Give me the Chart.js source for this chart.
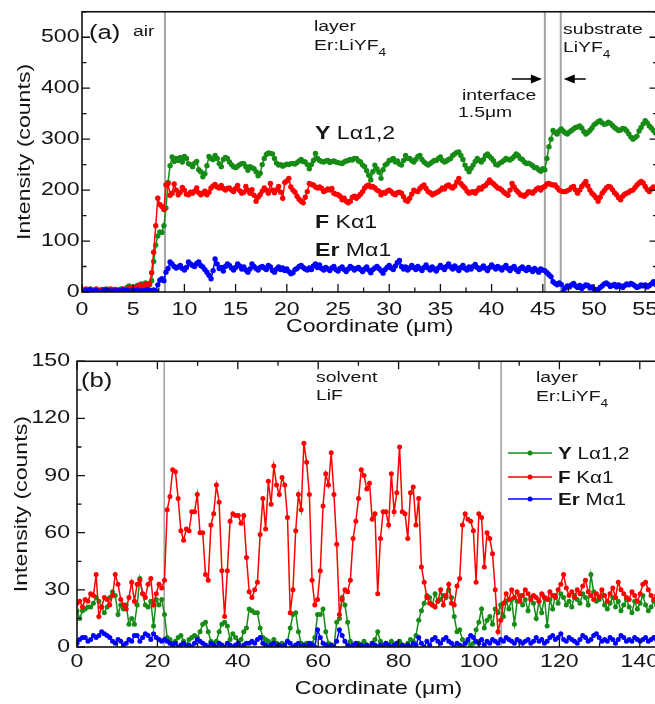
<!DOCTYPE html>
<html><head><meta charset="utf-8">
<script src="https://cdn.jsdelivr.net/npm/chart.js@4.4.1/dist/chart.umd.min.js"></script>
<style>
html,body{margin:0;padding:0;background:#fff;overflow:hidden;width:655px;height:704px;}
canvas{position:absolute;left:0;}
</style></head><body>
<canvas id="cA" width="700" height="345" style="top:0px;width:700px;height:345px"></canvas>
<canvas id="cB" width="700" height="359" style="top:345px;width:700px;height:359px"></canvas>
<script>
const SX = 1.25; // horizontal text stretch seen in the reference typeface
const FONT = "'Liberation Sans', Arial, sans-serif";
const INK = '#151515';

// sampling steps along the coordinate axis (µm)
const STEP_A = 0.2;
const STEP_B = 0.68;

// ---------- panel (a) ----------
const Y_LA_A = [
3,5,4,2,6,4,3,5,2,4,3,5,6,3,4,2,5,3,4,6,3,5,9,12,8,
10,7,13,9,16,12,18,11,14,22,60,92,110,118,117,130,165,215,248,265,256,262,258,264,255,
266,262,252,250,246,253,256,240,236,226,232,248,266,262,260,268,262,252,246,260,264,262,255,250,246,
244,247,250,252,252,246,239,246,244,242,236,228,233,250,262,270,273,272,271,262,253,249,250,247,249,
251,250,252,252,251,254,257,260,256,255,250,242,250,258,272,262,258,256,255,257,258,254,256,257,255,
254,253,252,255,257,258,260,259,262,262,257,255,249,246,238,229,220,236,249,242,235,223,240,249,252,
258,259,262,255,257,251,249,258,268,262,262,258,255,260,266,268,260,255,252,249,252,255,258,258,262,
265,258,255,257,260,262,268,271,274,275,268,260,249,242,236,243,249,256,262,258,255,260,268,271,266,
262,257,250,249,253,255,258,262,260,259,262,266,271,268,262,260,255,252,253,251,248,244,244,240,237,
242,240,262,285,300,317,313,310,316,320,316,312,310,314,317,320,323,324,326,322,315,310,313,317,322,
328,331,334,336,332,329,330,333,331,327,323,320,317,318,321,320,316,310,304,300,303,306,316,323,330,
336,332,326,322,317,312,318];
const F_KA_A = [
4,2,6,3,5,2,4,6,3,2,5,3,4,2,6,3,5,4,2,3,6,4,5,8,6,
9,5,10,14,8,12,15,10,17,38,78,130,184,172,168,162,210,213,190,194,212,200,191,196,205,
200,192,191,196,194,198,204,195,191,194,198,191,196,204,208,211,206,204,209,203,200,203,204,200,197,
203,209,199,194,196,207,200,194,201,190,178,186,191,198,204,200,194,213,200,195,201,207,196,184,215,
218,223,206,200,196,188,182,178,175,186,197,213,211,210,206,204,206,203,197,199,202,200,203,194,192,
191,188,181,184,178,175,178,186,188,184,188,192,197,204,208,210,206,207,204,200,198,191,195,194,198,
200,197,193,191,195,196,194,187,180,178,184,192,200,198,197,203,207,210,203,197,195,191,193,195,197,
200,204,202,208,210,206,204,208,216,223,213,208,204,198,194,196,197,194,199,204,202,207,209,214,220,
215,212,208,204,203,200,196,193,190,200,213,206,200,196,191,190,188,192,197,196,194,198,202,204,200,
205,207,212,213,211,210,210,205,200,198,197,197,199,201,205,207,200,194,200,207,212,217,208,200,194,
190,185,178,186,194,199,204,207,206,201,195,191,185,181,188,192,194,196,199,200,205,210,214,217,214,
207,201,197,202,206,203,199];
const ER_MA_A = [
2,0,3,1,4,0,2,3,1,0,2,4,1,3,0,2,1,3,2,0,4,1,3,2,1,
3,1,4,2,0,3,2,5,1,3,4,2,14,23,26,22,39,46,59,55,50,47,49,52,46,
43,48,59,55,52,50,56,59,52,49,44,39,33,26,42,65,55,46,48,41,50,55,52,47,43,
48,55,51,45,49,43,39,45,55,50,46,43,48,50,47,44,52,49,42,39,45,49,44,47,42,
45,40,36,38,44,46,50,52,48,45,43,47,44,51,55,48,53,46,43,48,45,42,47,50,44,
41,46,49,44,40,45,50,47,43,46,48,44,40,45,49,43,38,44,47,50,46,42,37,44,48,
52,47,44,51,58,62,50,45,49,43,47,52,48,44,50,46,42,48,53,47,43,49,45,41,47,
52,48,44,50,55,49,45,51,47,42,48,52,46,43,49,45,50,54,48,44,47,51,46,42,48,
53,49,45,50,47,43,48,52,46,42,47,50,44,40,46,49,45,42,48,44,40,46,43,39,45,
43,42,38,34,30,20,17,14,18,15,0,8,12,10,14,17,12,9,13,7,11,14,13,8,10,
6,4,5,9,12,16,18,15,11,13,15,10,14,12,9,13,16,14,17,15,12,9,11,14,12,
14,10,13,16,20,15,12];
const BOUNDS_A = [8.1, 45.2, 46.75];

// ---------- panel (b) ----------
const Y_LA_B = [
19,15,19,20,21,21,23,26,24,21,18,21,26,29,27,17,22,20,22,12,15,12,22,36,28,22,21,24,11,25,22,25,17,
5,4,2,3,5,6,3,1,4,5, 6,5,8,12,13,8,3,2,3,8, 12,13,11,4,7,5,2,4,8,10,
20,19,18,18,10,5,4,3,2,4, 2,1,2,0,3,10,17,18,8,2, 0,2,1,2,5,17,17,20,8,2,
1,0,13,15,26,22,13,3,1,0, 2,1,3,1,0,2,4,8,3,1, 2,0,3,1,2,3,1,0,2,4,
3,6,14,19,23,27,26,22,28,24, 25,27,26,30,26,16,8,9,4,2, 3,1,2,9,13,20,10,14,16,12,
20,18,22,16,24,
20,25,12,24,27,22,25,19,26,23, 15,24,18,26,11,25,20,27,23,28, 26,22,24,21,27,25,23,28,26,22,
38,29,24,25,27,22,20,23,26,21, 24,19,22,25,21,18,24,20,23,27, 22,19,21,24, 22,25,20,23];
const F_KA_B = [
23,24,21,25,24,28,27,38,16,21,26,25,22,27,38,33,25,22,20,26,34,24,33,35,28,26,33,36,22,28,33,31,35,
72,79,93,92,78,61,56,62,61,71,71,80,60,60,38,35,64,70,85,76,40,16,40,66,70,69,69,65,69,47,
29,26,30,34,59,78,62,87,75,95,85,80,89,85,68,18,30,61,80,72,107,97,80,35,22,25,40,74,91,85,
102,80,54,17,25,30,29,35,57,66,78,93,90,83,86,67,70,28,57,71,71,64,91,71,81,105,71,70,57,81,
84,64,78,42,34,26,23,22,21,24,30,22,27,33,23,22,32,36,64,70,67,66,61,34,70,68,42,60,57,49,
30,8,14,23,28,
25,30,26,29,24,27,30,28,25,27, 26,24,28,26,25,29,27,26,30,33, 38,31,27,29,26,30,28,32,35,29,
27,25,28,26,30,27,24,28,31,26, 34,30,28,26,25,29,27,24,28,33, 34,30,27,25, 27,24,29,26];
const ER_MA_B = [
2,4,5,5,3,4,6,5,6,8,7,6,5,3,2,4,3,1,2,4,3,6,6,3,5,7,6,4,7,5,4,3,4,
3,2,1,2,0,1,2,0,1,0, 2,4,3,2,1,0,2,1,0,2, 1,0,2,1,0,1,2,0,1,2, 2,3,2,4,5,2,1,0,1,2,
0,1,0,1,3,2,0,1,2,0, 1,0,2,1,0,9,5,2,1,0, 1,0,3,9,6,3,1,0,1,2, 0,1,0,1,0,2,1,0,1,0,
2,1,0,1,2,0,1,0,1,0, 2,1,5,2,0,3,1,4,5,3, 2,4,5,3,2,0,2,1,0,2, 4,6,5,3,2,4,1,3,2,4,
3,2,4,3,5,
4,3,2,4,3,2,3,4,2,3, 5,3,4,2,3,5,6,4,5,7, 4,3,5,4,3,2,4,6,5,3, 4,6,7,5,3,4,3,5,4,2,
4,6,5,3,4,3,5,4,3,4, 5,3,4,5, 4,3,5,4];
const BOUNDS_B = [21.7, 105.5];

const SERIES = [['Y',' L\u03b11,2'],['F',' K\u03b11'],['Er',' M\u03b11']];
const COLORS = ['#168c16','#ff0000','#0000ff'];

// wide-text rendering (the reference typeface is horizontally expanded)
function stretchText(ctx){
  const orig = ctx.fillText.bind(ctx);
  ctx.fillText = function(t, x, y){
    ctx.save(); ctx.translate(x, y); ctx.scale(SX, 1); orig(t, 0, 0); ctx.restore();
  };
}
function rich(ctx, parts, x, y){
  ctx.save(); ctx.textAlign='left'; ctx.textBaseline='alphabetic'; ctx.fillStyle=INK;
  let cx = x;
  for (const p of parts){
    ctx.font = (p.bold?'bold ':'') + p.size + 'px ' + FONT;
    ctx.fillText(p.t, cx, y + (p.dy||0));
    cx += ctx.measureText(p.t).width * SX;
  }
  ctx.restore();
}
function arrow(ctx, xFrom, xTo, y){
  const dir = Math.sign(xTo - xFrom);
  ctx.save(); ctx.strokeStyle='#000'; ctx.fillStyle='#000'; ctx.lineWidth=1.5;
  ctx.beginPath(); ctx.moveTo(xFrom, y); ctx.lineTo(xTo - dir*8, y); ctx.stroke();
  ctx.beginPath(); ctx.moveTo(xTo, y); ctx.lineTo(xTo - dir*11, y-4.5); ctx.lineTo(xTo - dir*11, y+4.5); ctx.closePath(); ctx.fill();
  ctx.restore();
}

function toXY(arr, step){ return arr.map((v,i)=>({x: Math.round(i*step*100)/100, y: v})); }
function makeSets(arrs, step, r){
  return arrs.map((a,k)=>({
    label: SERIES[k].join(''), data: toXY(a, step),
    borderColor: COLORS[k], backgroundColor: COLORS[k],
    pointBackgroundColor: COLORS[k], pointBorderColor: COLORS[k], pointBorderWidth: 0,
    pointRadius: r, borderWidth: 1.5, tension: 0, order: 3-k
  }));
}

const frameTicks = {
  id: 'frameTicks',
  afterDatasetsDraw(chart, args, o){
    const {ctx, chartArea: a, scales: {x, y}} = chart;
    ctx.save(); ctx.strokeStyle = '#111'; ctx.lineWidth = 1.3; ctx.beginPath();
    const xm = x.ticks.map(t=>t.value), ym = y.ticks.map(t=>t.value);
    for (let k=0; k*o.xMinor <= x.max + 1e-9; k++){
      const v = k*o.xMinor, L = xm.some(m=>Math.abs(m-v)<1e-6) ? 8 : 4.5, px = x.getPixelForValue(v);
      ctx.moveTo(px, a.bottom); ctx.lineTo(px, a.bottom - L);
      if (o.top){ ctx.moveTo(px, a.top); ctx.lineTo(px, a.top + L); }
    }
    for (let k=0; k*o.yMinor <= y.max + 1e-9; k++){
      const v = k*o.yMinor, L = ym.some(m=>Math.abs(m-v)<1e-6) ? 8 : 4.5, py = y.getPixelForValue(v);
      ctx.moveTo(a.left, py); ctx.lineTo(a.left + L, py);
      ctx.moveTo(a.right, py); ctx.lineTo(a.right - L, py);
    }
    ctx.stroke();
    ctx.lineWidth = 1.6; ctx.strokeRect(a.left, a.top, a.right-a.left, a.bottom-a.top);
    ctx.restore();
    if (o.annot) o.annot(chart);
  },
  beforeDatasetsDraw(chart, args, o){
    const {ctx, chartArea: a, scales: {x}} = chart;
    ctx.save(); ctx.strokeStyle = '#a3a3a3'; ctx.lineWidth = o.bw;
    for (const b of o.bounds){
      const px = x.getPixelForValue(b);
      ctx.beginPath(); ctx.moveTo(px, a.top); ctx.lineTo(px, a.bottom); ctx.stroke();
    }
    ctx.restore();
  }
};

// labelled ticks at every multiple of the step inside the range
function multiples(step){
  return s => {
    const t = [];
    for (let k = 0; k*step <= s.max + 1e-9; k++) t.push({value: k*step});
    s.ticks = t;
  };
}
function scales(o){
  const tf = {family: FONT, size: 18.5, lineHeight: 1};
  return {
    x: {type:'linear', min:0, max:o.xmax, afterBuildTicks: multiples(o.xstep),
      ticks:{stepSize:o.xstep, padding:o.xpad, color:INK, font:tf, maxRotation:0, autoSkip:false},
      grid:{display:false, drawTicks:false}, border:{display:false},
      title:{display:true, text:'Coordinate (\u03bcm)', color:INK, font:tf, padding:{top:0, bottom:o.xtpad}},
      afterFit: s => { s.height = o.xh; }},
    y: {type:'linear', min:0, max:o.ymax, afterBuildTicks: multiples(o.ystep),
      ticks:{stepSize:o.ystep, padding:o.ypad, color:INK, font:tf, autoSkip:false},
      grid:{display:false, drawTicks:false}, border:{display:false},
      title:{display:true, text:'Intensity (counts)', color:INK, font:tf, padding:{top:o.ytpad, bottom:0}},
      afterFit: s => { s.width = o.yw; }}
  };
}

// ---------- chart (a) ----------
const cA = document.getElementById('cA');
stretchText(cA.getContext('2d'));
new Chart(cA, {
  type: 'line',
  data: { datasets: makeSets([Y_LA_A, F_KA_A, ER_MA_A], STEP_A, 2.7) },
  options: {
    responsive:false, animation:false, devicePixelRatio:1,
    layout:{padding:{top:8, left:0, right:42.5, bottom:0}},
    plugins:{legend:{display:false}, tooltip:{enabled:false},
      frameTicks:{xMinor:2.5, yMinor:50, top:false, bounds:BOUNDS_A, bw:2,
        annot(chart){
          const ctx = chart.ctx, x = chart.scales.x;
          rich(ctx,[{t:'(a)',size:20.5}],89,39);
          rich(ctx,[{t:'air',size:15.5}],133,36);
          rich(ctx,[{t:'layer',size:15.5}],314,31);
          rich(ctx,[{t:'Er:LiYF',size:15.5},{t:'4',size:11,dy:6}],314,50);
          rich(ctx,[{t:'substrate',size:15.5}],563,34);
          rich(ctx,[{t:'LiYF',size:15.5},{t:'4',size:11,dy:6}],563,52);
          rich(ctx,[{t:'interface',size:15.5}],462,100);
          rich(ctx,[{t:'1.5\u03bcm',size:15.5}],458,117);
          const x1 = x.getPixelForValue(BOUNDS_A[1]), x2 = x.getPixelForValue(BOUNDS_A[2]);
          arrow(ctx, x1-33, x1-3, 79);
          arrow(ctx, x2+25, x2+3, 79);
          rich(ctx,[{t:SERIES[0][0],bold:true,size:18.5},{t:SERIES[0][1],size:18.5}],315,139);
          rich(ctx,[{t:SERIES[1][0],bold:true,size:18.5},{t:SERIES[1][1],size:18.5}],315,228);
          rich(ctx,[{t:SERIES[2][0],bold:true,size:18.5},{t:SERIES[2][1],size:18.5}],315,256);
        }}},
    scales: scales({xmax:56.2, xstep:5, ymax:550, ystep:100, xpad:9, xtpad:8.5, xh:53, ypad:2.5, ytpad:15.5, yw:82})
  },
  plugins:[frameTicks]
});

// ---------- chart (b) ----------
const cB = document.getElementById('cB');
stretchText(cB.getContext('2d'));
new Chart(cB, {
  type: 'line',
  data: { datasets: makeSets([Y_LA_B, F_KA_B, ER_MA_B], STEP_B, 2.5) },
  options: {
    responsive:false, animation:false, devicePixelRatio:1,
    layout:{padding:{top:11.7, left:0, right:20, bottom:0}},
    plugins:{legend:{display:false}, tooltip:{enabled:false},
      frameTicks:{xMinor:10, yMinor:15, top:true, bounds:BOUNDS_B, bw:1.6,
        annot(chart){
          const ctx = chart.ctx;
          rich(ctx,[{t:'(b)',size:20.5}],81,42);
          rich(ctx,[{t:'solvent',size:15.5}],316,37);
          rich(ctx,[{t:'LiF',size:15.5}],316,55);
          rich(ctx,[{t:'layer',size:15.5}],536,37);
          rich(ctx,[{t:'Er:LiYF',size:15.5},{t:'4',size:11,dy:6}],536,56);
          const rows = [108, 132, 154];
          rows.forEach((cy,k)=>{
            ctx.save(); ctx.strokeStyle = COLORS[k]; ctx.fillStyle = COLORS[k]; ctx.lineWidth = 1.6;
            ctx.beginPath(); ctx.moveTo(508, cy); ctx.lineTo(552, cy); ctx.stroke();
            ctx.beginPath(); ctx.arc(530, cy, 2.5, 0, Math.PI*2); ctx.fill(); ctx.restore();
            rich(ctx,[{t:SERIES[k][0],bold:true,size:16.5},{t:SERIES[k][1],size:16.5}],558,cy+6);
          });
        }}},
    scales: scales({xmax:150, xstep:20, ymax:150, ystep:30, xpad:6, xtpad:5.5, xh:57, ypad:7, ytpad:13, yw:77})
  },
  plugins:[frameTicks]
});
</script>
</body></html>
